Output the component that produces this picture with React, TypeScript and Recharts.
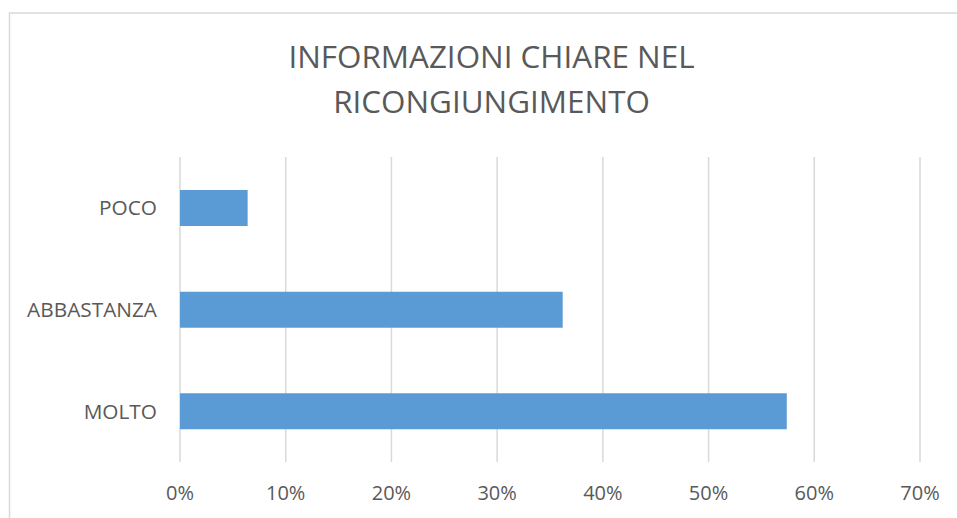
import React from "react";
import { BarChart, Bar, XAxis, YAxis, CartesianGrid } from "recharts";

const categories = ["POCO", "ABBASTANZA", "MOLTO"];
const values = [6.4, 36.2, 57.4];
const xTicks = [0, 10, 20, 30, 40, 50, 60, 70];
const titleLines = ["INFORMAZIONI CHIARE NEL", "RICONGIUNGIMENTO"];

const data = categories.map((c, i) => ({ name: c, value: values[i] }));

const FONT = "'Open Sans', sans-serif";
const TEXT = "#595959";

export default function App() {
  return (
    <div
      style={{
        position: "fixed",
        left: 0,
        top: 0,
        width: 957,
        height: 518,
        overflow: "hidden",
        background: "#fff",
        fontFamily: FONT,
      }}
    >
      <BarChart
        width={957}
        height={518}
        data={data}
        layout="vertical"
        margin={{ top: 157, right: 37, bottom: 0, left: 0 }}
      >
        <CartesianGrid horizontal={false} stroke="#d9d9d9" strokeWidth={1.5} />
        <XAxis
          type="number"
          domain={[0, 70]}
          ticks={xTicks}
          tickFormatter={(v) => `${v}%`}
          axisLine={false}
          tickLine={false}
          tickSize={0}
          tickMargin={24}
          height={56}
          tick={{ fill: TEXT, fontSize: 20, fontFamily: FONT }}
        />
        <YAxis
          type="category"
          dataKey="name"
          width={180}
          axisLine={false}
          tickLine={false}
          tickSize={0}
          tickMargin={23}
          tick={{ fill: TEXT, fontSize: 20.8, fontFamily: FONT }}
        />
        <Bar dataKey="value" fill="#5b9bd5" barSize={36} isAnimationActive={false} />
      </BarChart>
      <svg
        width={957}
        height={518}
        style={{ position: "absolute", left: 0, top: 0, pointerEvents: "none" }}
      >
        <rect x={9.5} y={13} width={1000} height={1000} fill="none" stroke="#d9d9d9" strokeWidth={1.5} />
        {titleLines.map((t, i) => (
          <text
            key={i}
            x={491.5}
            y={68 + i * 45}
            textAnchor="middle"
            fill={TEXT}
            fontSize={31.4}
            fontFamily={FONT}
          >
            {t}
          </text>
        ))}
      </svg>
    </div>
  );
}
